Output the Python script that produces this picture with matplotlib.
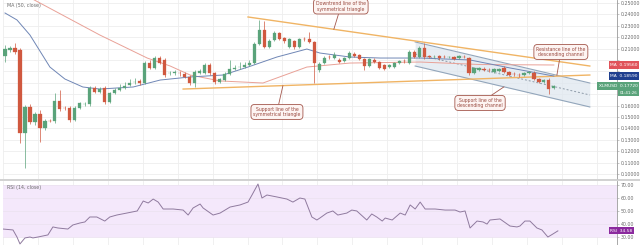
import matplotlib
matplotlib.use("Agg")
import matplotlib.pyplot as plt
from matplotlib.patches import Rectangle
import numpy as np

# ---- daily OHLC ----
opens = [0.2035, 0.2088, 0.2105, 0.2088, 0.1360, 0.1588, 0.1456, 0.1526, 0.1403, 0.1465,
         0.1465, 0.1640, 0.1579, 0.1579, 0.1474, 0.1579, 0.1614, 0.1614, 0.1754, 0.1719,
         0.1754, 0.1631, 0.1710, 0.1737, 0.1754, 0.1781, 0.1807, 0.1816, 0.1798, 0.1973,
         0.1930, 0.2017, 0.2000, 0.1886, 0.1886, 0.1886, 0.1877, 0.1851, 0.1798, 0.1886,
         0.1886, 0.1956, 0.1886, 0.1807, 0.1824, 0.1877, 0.1921, 0.1938, 0.1938, 0.1956,
         0.1973, 0.2140, 0.2263, 0.2114, 0.2175, 0.2237, 0.2193, 0.2114, 0.2166, 0.2114,
         0.2184, 0.2184, 0.2158, 0.1912, 0.1973, 0.2026, 0.2017, 0.2000, 0.1991, 0.2017,
         0.2052, 0.2044, 0.2009, 0.1947, 0.2000, 0.1982, 0.1956, 0.1938, 0.1938, 0.1973,
         0.1991, 0.1973, 0.2070, 0.2026, 0.2105, 0.2035, 0.2026, 0.2035, 0.2026, 0.2026,
         0.2026, 0.2017, 0.2026, 0.2017, 0.1886, 0.1912, 0.1921, 0.1912, 0.1895, 0.1903,
         0.1930, 0.1895, 0.1877, 0.1868, 0.1868, 0.1886, 0.1886, 0.1833, 0.1807, 0.1824,
         0.1754]
highs = [0.2131, 0.2123, 0.2149, 0.2105, 0.1605, 0.1614, 0.1544, 0.1561, 0.1482, 0.1482,
         0.1710, 0.1737, 0.1596, 0.1596, 0.1596, 0.1631, 0.1631, 0.1772, 0.1772, 0.1763,
         0.1772, 0.1719, 0.1754, 0.1789, 0.1807, 0.1833, 0.1842, 0.1833, 0.1991, 0.2000,
         0.2035, 0.2035, 0.2017, 0.1903, 0.1912, 0.1903, 0.1895, 0.1868, 0.1912, 0.1921,
         0.1973, 0.1973, 0.1895, 0.1842, 0.1895, 0.2000, 0.1956, 0.1982, 0.1982, 0.2000,
         0.2158, 0.2351, 0.2342, 0.2184, 0.2254, 0.2245, 0.2202, 0.2193, 0.2175, 0.2193,
         0.2202, 0.2245, 0.2166, 0.1982, 0.2035, 0.2044, 0.2070, 0.2017, 0.2026, 0.2079,
         0.2070, 0.2052, 0.2017, 0.2017, 0.2017, 0.1991, 0.1965, 0.1965, 0.1982, 0.2000,
         0.2009, 0.2088, 0.2088, 0.2123, 0.2149, 0.2044, 0.2044, 0.2044, 0.2044, 0.2035,
         0.2035, 0.2044, 0.2044, 0.2026, 0.1938, 0.1938, 0.1938, 0.1930, 0.1930, 0.1930,
         0.1947, 0.1903, 0.1895, 0.1886, 0.1895, 0.1903, 0.1903, 0.1842, 0.1833, 0.1842,
         0.1781]
lows = [0.1982, 0.2070, 0.2052, 0.1272, 0.1053, 0.1439, 0.1430, 0.1281, 0.1386, 0.1456,
        0.1447, 0.1553, 0.1561, 0.1456, 0.1465, 0.1570, 0.1596, 0.1596, 0.1710, 0.1710,
        0.1614, 0.1623, 0.1702, 0.1728, 0.1745, 0.1772, 0.1789, 0.1781, 0.1789, 0.1921,
        0.1921, 0.1965, 0.1851, 0.1868, 0.1868, 0.1859, 0.1842, 0.1781, 0.1763, 0.1877,
        0.1877, 0.1868, 0.1789, 0.1798, 0.1816, 0.1868, 0.1912, 0.1921, 0.1930, 0.1947,
        0.1965, 0.2131, 0.2105, 0.2105, 0.2166, 0.2175, 0.2149, 0.2105, 0.2096, 0.2105,
        0.2166, 0.2149, 0.1798, 0.1895, 0.1965, 0.2009, 0.2009, 0.1973, 0.1982, 0.2009,
        0.2026, 0.2000, 0.1912, 0.1938, 0.1973, 0.1921, 0.1912, 0.1930, 0.1930, 0.1965,
        0.1973, 0.1965, 0.2017, 0.2017, 0.2009, 0.2017, 0.2017, 0.2000, 0.2017, 0.2017,
        0.2000, 0.2009, 0.2017, 0.1868, 0.1877, 0.1903, 0.1903, 0.1895, 0.1886, 0.1895,
        0.1886, 0.1859, 0.1859, 0.1851, 0.1859, 0.1877, 0.1824, 0.1798, 0.1798, 0.1702,
        0.1745]
closes = [0.2096, 0.2105, 0.2070, 0.1360, 0.1588, 0.1456, 0.1526, 0.1403, 0.1465, 0.1462,
          0.1640, 0.1570, 0.1575, 0.1474, 0.1579, 0.1623, 0.1617, 0.1754, 0.1719, 0.1745,
          0.1631, 0.1710, 0.1737, 0.1754, 0.1772, 0.1798, 0.1810, 0.1798, 0.1973, 0.1930,
          0.2017, 0.1973, 0.1868, 0.1889, 0.1895, 0.1883, 0.1851, 0.1798, 0.1895, 0.1903,
          0.1956, 0.1886, 0.1807, 0.1833, 0.1877, 0.1921, 0.1930, 0.1941, 0.1956, 0.1973,
          0.2140, 0.2263, 0.2114, 0.2166, 0.2237, 0.2184, 0.2166, 0.2184, 0.2114, 0.2184,
          0.2181, 0.2158, 0.1973, 0.1965, 0.2017, 0.2023, 0.2044, 0.1982, 0.2017, 0.2061,
          0.2035, 0.2009, 0.1947, 0.2009, 0.1982, 0.1930, 0.1921, 0.1956, 0.1973, 0.1991,
          0.1988, 0.2070, 0.2026, 0.2105, 0.2026, 0.2026, 0.2029, 0.2017, 0.2023, 0.2029,
          0.2009, 0.2035, 0.2023, 0.1886, 0.1930, 0.1930, 0.1912, 0.1909, 0.1921, 0.1921,
          0.1895, 0.1868, 0.1874, 0.1865, 0.1886, 0.1895, 0.1833, 0.1807, 0.1824, 0.1745,
          0.1772]

# ---- moving averages (bar index, value) ----
ma_fast_idx = [0, 2.4, 5, 9, 12, 15.6, 19, 25.7, 31.1, 37.1, 43.7, 48.7, 54.5, 60.5,
               63.1, 69.1, 75.2, 83.2, 93.2, 101.2, 110]
ma_fast_val = [0.2412, 0.2351, 0.2219, 0.1938, 0.1833, 0.1763, 0.1745, 0.1763, 0.1824,
               0.1851, 0.1868, 0.1938, 0.2026, 0.2096, 0.2061, 0.2026, 0.2017, 0.2017,
               0.2000, 0.1930, 0.1859]
ma_slow_idx = [4, 19, 28.5, 33.1, 37.1, 43.1, 51.7, 60.5, 69.1, 83.2, 95.2, 110]
ma_slow_val = [0.2570, 0.2219, 0.2017, 0.1947, 0.1868, 0.1816, 0.1798, 0.1938, 0.1973,
               0.1982, 0.1960, 0.1956]

# ---- RSI (bar index, value) ----
rsi_idx = [-0.4, 1.6, 2.4, 3, 4, 5, 5.6, 6.6, 7.6, 8.6, 9.6, 10.6, 12.6, 13.6, 15, 16, 17,
           18.4, 20, 21, 22.4, 24.4, 26.5, 27.7, 28.7, 29.7, 30.7, 31.7, 33.7, 35.7, 36.7,
           37.7, 39.1, 39.7, 41.7, 43.1, 45.1, 47.1, 48.7, 49.5, 50.7, 51.5, 52.5, 54.5,
           56.5, 57.7, 59.1, 60.1, 61.5, 62.5, 63.1, 64.5, 65.7, 66.7, 68.5, 69.5, 70.5,
           72.5, 73.5, 74.5, 75.6, 76.2, 77.6, 79.2, 80.2, 81.2, 82.2, 83.2, 84.2, 86.2,
           88.2, 90.2, 91.2, 92.2, 93.2, 94.6, 95.8, 96.6, 97.2, 99.2, 101.2, 102.6, 103.2,
           104.2, 105.2, 106.6, 107.6, 108.8, 109.8, 110.8]
rsi_val = [36.0, 35.3, 29.9, 24.6, 29.2, 29.9, 29.2, 29.9, 30.7, 31.5, 37.6, 36.8, 36.0,
           39.1, 40.6, 41.4, 45.2, 45.2, 42.1, 45.2, 46.7, 48.2, 49.8, 57.4, 55.9, 58.9,
           56.6, 51.3, 51.3, 50.5, 46.7, 52.1, 55.1, 52.1, 46.7, 48.2, 52.8, 54.4, 56.6,
           62.0, 70.4, 59.7, 62.0, 60.5, 58.9, 56.6, 59.7, 58.9, 45.2, 42.9, 44.4, 48.2,
           49.8, 46.7, 48.2, 50.5, 49.8, 42.9, 47.5, 45.2, 42.1, 44.4, 42.9, 48.2, 46.7,
           54.4, 51.3, 56.6, 51.3, 51.3, 50.5, 50.5, 49.0, 49.8, 36.8, 42.1, 41.4, 39.8,
           42.9, 43.7, 38.3, 37.6, 38.3, 42.1, 42.1, 36.8, 35.3, 29.9, 32.2, 34.58]

# ---- drawn trend lines (bar index, price) ----
tri_top = ([48.7, 117.2], [0.2377, 0.1947])
tri_bottom = ([35.7, 117.2], [0.1745, 0.1868])
chan_top = ([82.2, 117.2], [0.2158, 0.1798])
chan_bottom = ([82.2, 117.2], [0.1947, 0.1588])

price_ticks = [0.10, 0.11, 0.12, 0.13, 0.14, 0.15, 0.16, 0.17, 0.18, 0.19, 0.20,
               0.21, 0.22, 0.23, 0.24, 0.25]
rsi_ticks = [30, 40, 50, 60, 70]
bar_countdown = "01:41:26"

UP, DOWN = "#5aa37a", "#d0583f"
GRID = "#eeeeee"
AX_TXT = "#6b6b6b"
NOTE_EDGE, NOTE_FACE, NOTE_TXT = "#a4574c", "#fdf4f2", "#9a4a40"

W, H = 640, 245
def box(x0, y0, x1, y1):
    return [x0 / W, 1 - y1 / H, (x1 - x0) / W, (y1 - y0) / H]

fig = plt.figure(figsize=(W / 100, H / 100), dpi=100)
fig.patch.set_facecolor("white")
ax = fig.add_axes(box(3, 0, 617, 179))
axr = fig.add_axes(box(3, 181, 617, 245))

XL = (-0.4, 122.65)
grid_x = np.arange(-0.4, 122, 7.0)

for a in (ax, axr):
    a.set_xlim(*XL)
    a.set_facecolor("white")
    for s in ("top", "left", "bottom"):
        a.spines[s].set_visible(False)
    a.spines["right"].set_color("#9a9a9a")
    a.spines["right"].set_linewidth(0.6)
    a.yaxis.tick_right()
    a.set_xticks([])
    a.tick_params(axis="y", labelsize=3.4, labelcolor=AX_TXT, length=1.5,
                  width=0.4, color="#9a9a9a", pad=1)
    for gx in grid_x:
        a.axvline(gx, color=GRID, lw=0.6, zorder=0)

# ---- price panel ----
ax.set_ylim(0.0956, 0.2526)
tag_levels = [ma_slow_val[-1], ma_fast_val[-1], closes[-1], closes[-1] - 0.006]
ax.set_yticks(price_ticks)
# axis labels hidden underneath the value tags are left blank
ax.set_yticklabels([f"{t:.5f}" if min(abs(t - v) for v in tag_levels) > 0.0065 else ""
                    for t in price_ticks])
for t in price_ticks:
    ax.axhline(t, color=GRID, lw=0.6, zorder=0)

# descending channel
cx = np.array(chan_top[0])
ax.fill_between(cx, chan_bottom[1], chan_top[1], color="#dfe7ef", alpha=0.75, zorder=1, lw=0)
ax.plot(*chan_top, color="#93a6bb", lw=0.8, zorder=2)
ax.plot(*chan_bottom, color="#93a6bb", lw=0.8, zorder=2)
mid = (np.array(chan_top[1]) + np.array(chan_bottom[1])) / 2
ax.plot(cx, mid, color="#8d9aa8", lw=0.7, ls=(0, (2, 2)), zorder=2)

# symmetrical triangle
ax.plot(*tri_top, color="#f0b464", lw=1.0, zorder=2)
ax.plot(*tri_bottom, color="#f0b464", lw=1.0, zorder=2)

# moving averages
ax.plot(ma_slow_idx, ma_slow_val, color="#e9a197", lw=0.7, zorder=3)
ax.plot(ma_fast_idx, ma_fast_val, color="#6f86b5", lw=0.7, zorder=3)

# candles
for i, (o, h, l, c) in enumerate(zip(opens, highs, lows, closes)):
    col = UP if c >= o else DOWN
    ax.vlines(i, l, h, color=col, lw=0.5, zorder=4)
    lo, hi = min(o, c), max(o, c)
    ax.add_patch(Rectangle((i - 0.32, lo), 0.64, max(hi - lo, 0.00025),
                           facecolor=col, edgecolor=col, lw=0.2, zorder=5))

ax.text(0.006, 0.985, "MA (50, close)", transform=ax.transAxes, fontsize=3.4,
        color=AX_TXT, ha="left", va="top")

# callouts
def note(text, xy_text, line, at):
    target = (at, float(np.interp(at, line[0], line[1])))
    ax.annotate(text, xy=target, xytext=xy_text, fontsize=3.3, color=NOTE_TXT,
                ha="center", va="center", linespacing=1.1, zorder=8,
                bbox=dict(boxstyle="round,pad=0.5,rounding_size=0.8", fc=NOTE_FACE,
                          ec=NOTE_EDGE, lw=0.6),
                arrowprops=dict(arrowstyle="-", color=NOTE_EDGE, lw=0.6,
                                shrinkA=0, shrinkB=0))

note("Downtrend line of the\nsymmetrical triangle", (67.3, 0.2469), tri_top, 65.9)
note("Support line of the\nsymmetrical triangle", (54.5, 0.1544), tri_bottom, 55.7)
note("Support line of the\ndescending channel", (95.2, 0.1623), chan_bottom, 100.0)
note("Resistance line of the\ndescending channel", (111.4, 0.2070), chan_top, 110.6)

# value tags on the price scale
def tag(y, text, color, size=3.2):
    ax.text(1.0335, y, text, transform=ax.get_yaxis_transform(), fontsize=size,
            color="white", ha="right", va="center", zorder=10, clip_on=False,
            bbox=dict(boxstyle="square,pad=0.35", fc=color, ec="none"))

tag(ma_slow_val[-1], f"MA  {ma_slow_val[-1]:.5f}", "#e0535a")
tag(ma_fast_val[-1], f"MA  {ma_fast_val[-1]:.5f}", "#1f3f8f")
tag(closes[-1], f"XLMUSD  {closes[-1]:.5f}", "#5aa37a")
tag(closes[-1] - 0.006, bar_countdown, "#5aa37a", size=2.9)

# ---- RSI panel ----
axr.set_ylim(23.8, 72.7)
axr.set_yticks(rsi_ticks)
axr.set_yticklabels([f"{t:.2f}" for t in rsi_ticks])
axr.axhspan(30, 70, color="#f4e8fb", zorder=0, lw=0)
for t in rsi_ticks:
    axr.axhline(t, color="#ece3f1", lw=0.6, zorder=0)
axr.plot(rsi_idx, rsi_val, color="#8f7a9e", lw=0.7, zorder=3)
axr.text(0.006, 0.93, "RSI (14, close)", transform=axr.transAxes, fontsize=3.4,
         color=AX_TXT, ha="left", va="top")
axr.text(1.025, rsi_val[-1], f"RSI  {rsi_val[-1]:.2f}", transform=axr.get_yaxis_transform(),
         fontsize=3.2, color="white", ha="right", va="center", zorder=10, clip_on=False,
         bbox=dict(boxstyle="square,pad=0.35", fc="#8b2a9e", ec="none"))

# panel separator
fig.add_artist(plt.Line2D([0, 1], [1 - 180 / H] * 2, color="#c9c9c9", lw=1.2))

fig.savefig("out.png", dpi=100, facecolor="white")
